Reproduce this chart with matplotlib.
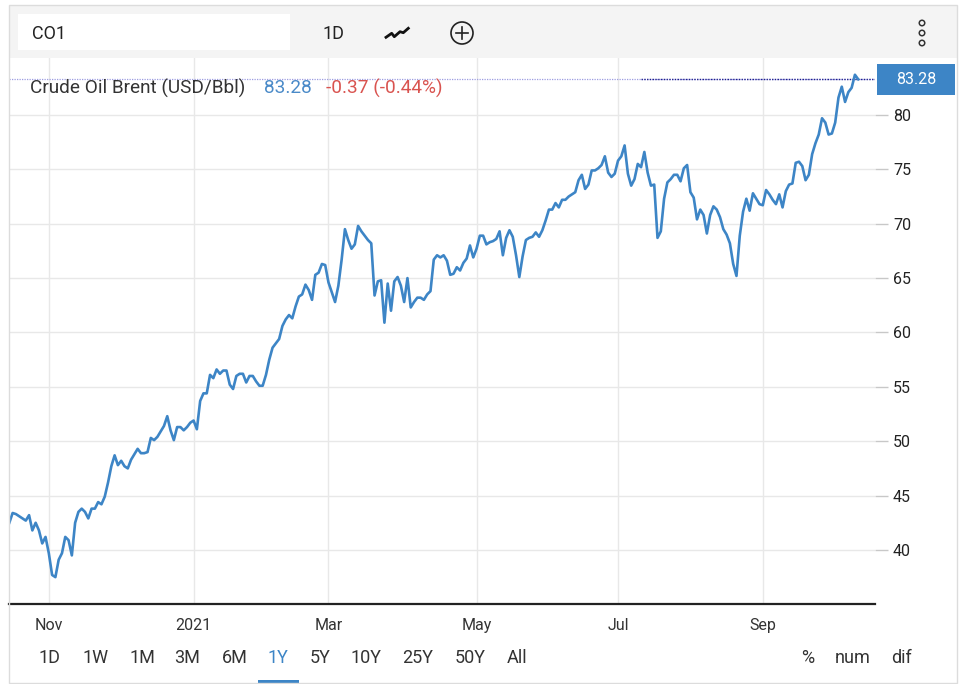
import matplotlib
matplotlib.use('Agg')
import matplotlib.pyplot as plt
import numpy as np
import pandas as pd
from matplotlib.patches import Rectangle, Ellipse
from matplotlib.lines import Line2D

plt.rcParams['font.family'] = ['Roboto', 'DejaVu Sans']

# ---------------- data ----------------
symbol = 'CO1'
series_name = 'Crude Oil Brent (USD/Bbl)'
last_value = 83.28
change = -0.37
change_pct = -0.44
end_date = '2021-10-12'

prices = [
    42.5, 43.4, 43.3, 43.1, 42.9, 42.7, 43.2, 41.8, 42.5, 41.8,
    40.6, 41.2, 39.7, 37.7, 37.5, 39.1, 39.7, 41.2, 40.9, 39.5,
    42.5, 43.5, 43.8, 43.5, 42.9, 43.8, 43.8, 44.4, 44.2, 44.9,
    46.2, 47.7, 48.7, 47.8, 48.2, 47.7, 47.5, 48.3, 48.8, 49.3,
    48.9, 48.9, 49.0, 50.3,
    50.1, 50.4, 50.9, 51.4, 52.3, 51.0, 50.1, 51.3, 51.3, 51.0,
    51.3, 51.7, 51.9, 51.1, 53.7, 54.4, 54.4, 56.1, 55.8, 56.6,
    56.2, 56.5, 56.5, 55.2, 54.8, 56.0, 56.2, 56.2, 55.4, 56.0,
    56.0, 55.5, 55.1, 55.1, 56.1, 57.5, 58.6, 59.0, 59.4, 60.6,
    61.2, 61.6, 61.3, 62.4, 63.3, 63.5,
    64.4, 63.9, 63.0, 65.3, 65.5, 66.3, 66.2, 64.6, 63.7, 62.8,
    64.3, 66.7, 69.5, 68.5, 67.7, 68.1, 69.8, 69.3, 68.9, 68.5,
    68.2, 63.4, 64.7, 64.8, 60.9, 64.5, 62.0, 64.7, 65.1, 64.3,
    62.8, 65.0, 62.3, 62.8, 63.2, 63.2, 63.0, 63.5, 63.8, 66.7,
    67.1, 66.9,
    67.1, 66.6, 65.3, 65.4, 66.0, 65.7, 66.4, 66.8, 68.0, 66.9,
    67.7, 68.9, 68.9, 68.1, 68.3, 68.4, 68.6, 69.3, 67.1, 68.7,
    69.4, 68.8, 67.1, 65.1, 67.0, 68.5, 68.7, 68.8, 69.2, 68.8,
    69.4, 70.3, 71.3, 71.3, 71.9, 71.5, 72.2, 72.2, 72.5, 72.7,
    72.9, 74.0, 74.5, 73.2, 73.6, 74.9,
    74.9, 75.1, 75.4, 76.2, 74.7, 74.3, 74.6, 75.8, 76.2, 77.2,
    74.6, 73.5, 74.1, 75.5, 75.2, 76.6, 74.7, 73.5, 73.6, 68.7,
    69.3, 72.3, 73.8, 74.1, 74.5, 74.5, 73.9, 75.1, 75.4, 72.9,
    72.4, 70.4, 71.3, 70.8, 69.1, 70.8, 71.6, 71.3, 70.6, 69.5,
    69.0, 68.2, 66.3, 65.2, 68.9, 71.1, 72.3, 71.2, 72.8, 72.3,
    71.8, 71.7,
    73.1, 72.7, 72.2, 71.8, 72.7, 71.5, 73.0, 73.6, 73.7, 75.6,
    75.7, 75.3, 74.0, 74.5, 76.4, 77.4, 78.2, 79.7, 79.3, 78.2,
    78.3, 79.3, 81.6, 82.6, 81.2, 82.1, 82.5, 83.7, 83.28,
]

month_starts = ['2020-11-01', '2021-01-01', '2021-03-01',
                '2021-05-01', '2021-07-01', '2021-09-01']
month_labels = ['Nov', '2021', 'Mar', 'May', 'Jul', 'Sep']
y_ticks = [40, 45, 50, 55, 60, 65, 70, 75, 80]
range_buttons = ['1D', '1W', '1M', '3M', '6M', '1Y', '5Y', '10Y', '25Y', '50Y', 'All']
active_range = '1Y'
mode_buttons = ['%', 'num', 'dif']

# ---------------- layout helpers ----------------
W, H = 960, 684
fig = plt.figure(figsize=(W / 100, H / 100), dpi=100)
fig.patch.set_facecolor('white')


def fx(x):
    return x / W


def fy(y):
    return 1 - y / H


BLUE = '#3d85c6'
TEXT = '#333333'

# card border and toolbar
fig.patches.append(Rectangle((fx(9), fy(683)), fx(957) - fx(9), fy(5) - fy(683),
                             transform=fig.transFigure, facecolor='none',
                             edgecolor='#dcdcdc', lw=1.0, zorder=10))
fig.patches.append(Rectangle((fx(9), fy(58)), fx(957) - fx(9), fy(5) - fy(58),
                             transform=fig.transFigure, facecolor='#f4f4f4',
                             edgecolor='none', zorder=1))
fig.patches.append(Rectangle((fx(18), fy(50)), fx(290) - fx(18), fy(14) - fy(50),
                             transform=fig.transFigure, facecolor='white',
                             edgecolor='none', zorder=2))
fig.text(fx(32), fy(34), symbol, fontsize=13, color='#222222', va='center', ha='left', zorder=3)
fig.text(fx(333), fy(34), '1D', fontsize=13, color='#222222', va='center', ha='center', zorder=3)

# line-chart icon
icon_x = [386, 391.7, 394.3, 400, 403.3, 408.3]
icon_y = [37.3, 33.3, 36.7, 31.7, 32.7, 28.3]
fig.lines.append(Line2D([fx(v) for v in icon_x], [fy(v) for v in icon_y],
                        transform=fig.transFigure, color='#111111', lw=2.0,
                        solid_joinstyle='round', zorder=3))
# circled plus
fig.patches.append(Ellipse((fx(462), fy(33)), 22 / W, 22 / H, transform=fig.transFigure,
                           facecolor='none', edgecolor='#222222', lw=1.2, zorder=3))
fig.lines.append(Line2D([fx(456), fx(468)], [fy(33), fy(33)], transform=fig.transFigure,
                        color='#222222', lw=1.2, zorder=3))
fig.lines.append(Line2D([fx(462), fx(462)], [fy(27), fy(39)], transform=fig.transFigure,
                        color='#222222', lw=1.2, zorder=3))
# kebab menu
for yy in (23, 33, 43):
    fig.patches.append(Ellipse((fx(922), fy(yy)), 5.5 / W, 5.5 / H, transform=fig.transFigure,
                               facecolor='none', edgecolor='#333333', lw=1.1, zorder=3))

# ---------------- main axes ----------------
ax = fig.add_axes([fx(9), fy(604), (875 - 9) / W, (604 - 58) / H])
ax.set_zorder(2)
ax.set_facecolor('white')
n = len(prices)
dates = pd.bdate_range(end=end_date, periods=n)
idx = np.arange(n)

ax.plot(idx, prices, color=BLUE, lw=1.9, solid_joinstyle='round', zorder=4)

ax.set_xlim(-0.1, 263.1)
ax.set_ylim(35.03, 85.24)

tick_pos = [int(np.searchsorted(dates.values, np.datetime64(m))) for m in month_starts]
ax.set_xticks(tick_pos)
ax.set_xticklabels(month_labels)
ax.set_yticks(y_ticks)
ax.set_yticklabels([str(v) for v in y_ticks])
ax.yaxis.tick_right()
ax.tick_params(axis='x', length=0, pad=10, labelsize=11.5, labelcolor=TEXT)
ax.tick_params(axis='y', length=9, width=1, color='#c8c8c8', pad=4,
               labelsize=11.5, labelcolor='#222222')
ax.grid(True, color='#e8e8e8', lw=1.0, zorder=0)
ax.set_axisbelow(True)
for s in ('top', 'left', 'right'):
    ax.spines[s].set_visible(False)
ax.spines['bottom'].set_color('#222222')
ax.spines['bottom'].set_linewidth(1.6)

# last value reference lines
ax.axhline(last_value, color='#9c9ce0', lw=0.9, ls=(0, (1, 1)), zorder=3)
ax.axhline(last_value, xmin=0.73, xmax=1.0, color='#1f1f8f', lw=1.0, ls=(0, (1, 1)), zorder=3)

# last value tag
fig.patches.append(Rectangle((fx(877), fy(95)), fx(955) - fx(877), fy(64) - fy(95),
                             transform=fig.transFigure, facecolor=BLUE,
                             edgecolor='none', zorder=5))
fig.text(fx(916), fy(79.5), f'{last_value:.2f}', fontsize=11.5, color='white',
         ha='center', va='center', zorder=6)

# legend text
fig.text(fx(30), fy(88), series_name, fontsize=13.7, color=TEXT, va='center', ha='left', zorder=6)
fig.text(fx(264), fy(88), f'{last_value:.2f}', fontsize=13.7, color='#4a8ac8',
         va='center', ha='left', zorder=6)
fig.text(fx(326), fy(88), f'{change:.2f} ({change_pct:.2f}%)', fontsize=13.7,
         color='#d9534f', va='center', ha='left', zorder=6)

# ---------------- bottom buttons ----------------
btn_x = [50, 96, 142, 187, 235, 278, 320, 366, 418, 470, 517]
for lab, xx in zip(range_buttons, btn_x):
    col = BLUE if lab == active_range else TEXT
    fig.text(fx(xx), fy(658), lab, fontsize=13, color=col, ha='center', va='center')
    if lab == active_range:
        fig.patches.append(Rectangle((fx(xx - 20), fy(683)), 41 / W, 3 / H,
                                     transform=fig.transFigure, facecolor=BLUE,
                                     edgecolor='none', zorder=5))
for lab, xx in zip(mode_buttons, [808, 853, 902]):
    fig.text(fx(xx), fy(658), lab, fontsize=13, color=TEXT, ha='center', va='center')

fig.savefig('out.png', dpi=100)
